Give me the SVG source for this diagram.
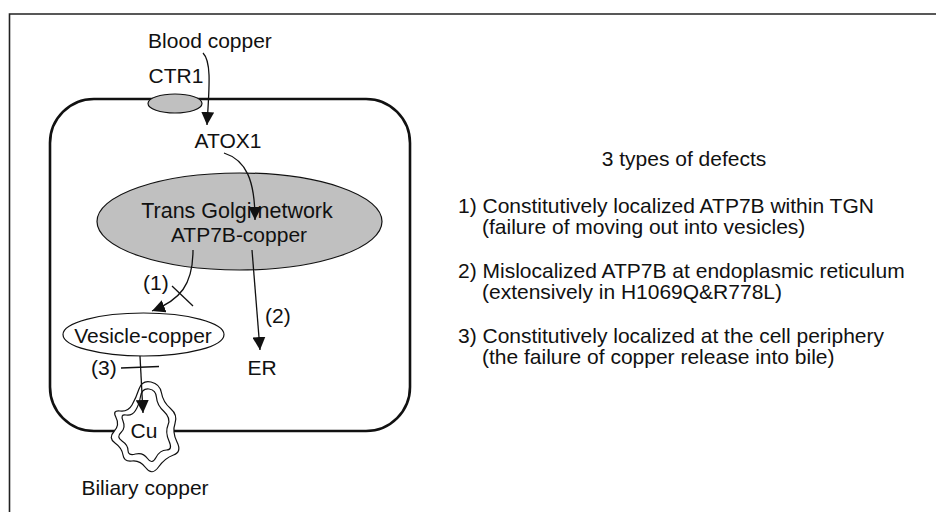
<svg xmlns="http://www.w3.org/2000/svg" width="936" height="512" viewBox="0 0 936 512">
<defs>
<style>
text{font-family:"Liberation Sans",Arial,sans-serif;font-size:21px;fill:#111}
.mid{text-anchor:middle}
.ln{fill:none;stroke:#111;stroke-width:1.3}
.shape{stroke:#111;stroke-width:1.2}
.gray{fill:#c0c0c0}
</style>
<marker id="ah" markerUnits="userSpaceOnUse" markerWidth="14" markerHeight="13" refX="13" refY="6.5" orient="auto" viewBox="0 0 14 13">
<path d="M0,0 L13,6.5 L0,13 z" fill="#111"/>
</marker>
</defs>
<rect width="936" height="512" fill="#fff"/>
<path d="M9.5,512 L9.5,14 L936,14" fill="none" stroke="#222" stroke-width="1.6"/>

<g id="cell">
<rect x="50" y="99" width="360" height="332" rx="44" ry="44" fill="none" stroke="#111" stroke-width="2.6"/>
</g>
<g id="ctr1">
<ellipse cx="175" cy="103.5" rx="27" ry="9.5" class="shape gray"/>
<text x="176" y="83" class="mid">CTR1</text>
</g>
<g id="blood">
<text x="210" y="48" class="mid">Blood copper</text>
</g>
<g id="atox1">
<text x="228" y="148" class="mid">ATOX1</text>
</g>
<g id="tgn">
<ellipse cx="239.5" cy="221.5" rx="142.5" ry="48.5" class="shape gray"/>
<text x="237" y="218" class="mid" style="font-size:21.5px">Trans Golgi network</text>
<text x="239" y="242" class="mid">ATP7B-copper</text>
</g>
<g id="vesicle">
<ellipse cx="143.5" cy="334.5" rx="80.5" ry="21.5" class="shape" fill="#fff"/>
<text x="143" y="343" class="mid">Vesicle-copper</text>
</g>
<g id="er">
<text x="262" y="375" class="mid">ER</text>
</g>
<g id="cu">
<path fill="#fff" class="shape" d="M132,405 Q136,398 139,389 Q142,380 151,382 Q160,384 161.5,393 Q163,402 170.5,408.5 Q178,415 175,423.5 Q172,432 177,442 Q182,452 173.5,455 Q165,458 158.5,467 Q152,476 146,468 Q140,460 132,461 Q124,462 123,455 Q122,448 115,443 Q108,438 114,431.5 Q120,425 116,417.5 Q112,410 120,411 Q128,412 132,405 Z"/>
<path fill="none" class="shape" d="M135.5,410.5 Q139,405 140.5,396.5 Q142,388 149,389 Q156,390 156.5,397.5 Q157,405 164,411.5 Q171,418 168,425 Q165,432 169,441 Q173,450 166.5,450 Q160,450 156,457.5 Q152,465 147.5,458.5 Q143,452 135.5,454 Q128,456 128,450.5 Q128,445 122,441 Q116,437 121,432.5 Q126,428 123,421 Q120,414 126,415 Q132,416 135.5,410.5 Z"/>
<text x="144" y="438" class="mid">Cu</text>
</g>
<g id="biliary">
<text x="145" y="495" class="mid">Biliary copper</text>
</g>
<g id="labels">
<text x="143" y="290">(1)</text>
<text x="265" y="323">(2)</text>
<text x="91" y="375">(3)</text>
</g>
<g id="defects">
<text x="684" y="166" class="mid">3 types of defects</text>
<text x="458" y="213">1) Constitutively localized ATP7B within TGN</text>
<text x="482" y="234">(failure of moving out into vesicles)</text>
<text x="458" y="278">2) Mislocalized ATP7B at endoplasmic reticulum</text>
<text x="482" y="299">(extensively in H1069Q&amp;R778L)</text>
<text x="458" y="343">3) Constitutively localized at the cell periphery</text>
<text x="482" y="364">(the failure of copper release into bile)</text>
</g>
<g id="connectors">
<path class="ln" d="M203,53 C212,62 209,90 207,125" marker-end="url(#ah)"/>
<path class="ln" d="M224,153 C246,160 255,180 255,220" marker-end="url(#ah)"/>
<path class="ln" d="M193,250 C193,285 180,300 152,311" marker-end="url(#ah)"/>
<path class="ln" d="M252,250 L260,350" marker-end="url(#ah)"/>
<path class="ln" d="M140,356 L143,413" marker-end="url(#ah)"/>
<path class="ln" d="M172,286 L193,306"/>
<path class="ln" d="M121,368 L159,366.5"/>
</g>
</svg>
